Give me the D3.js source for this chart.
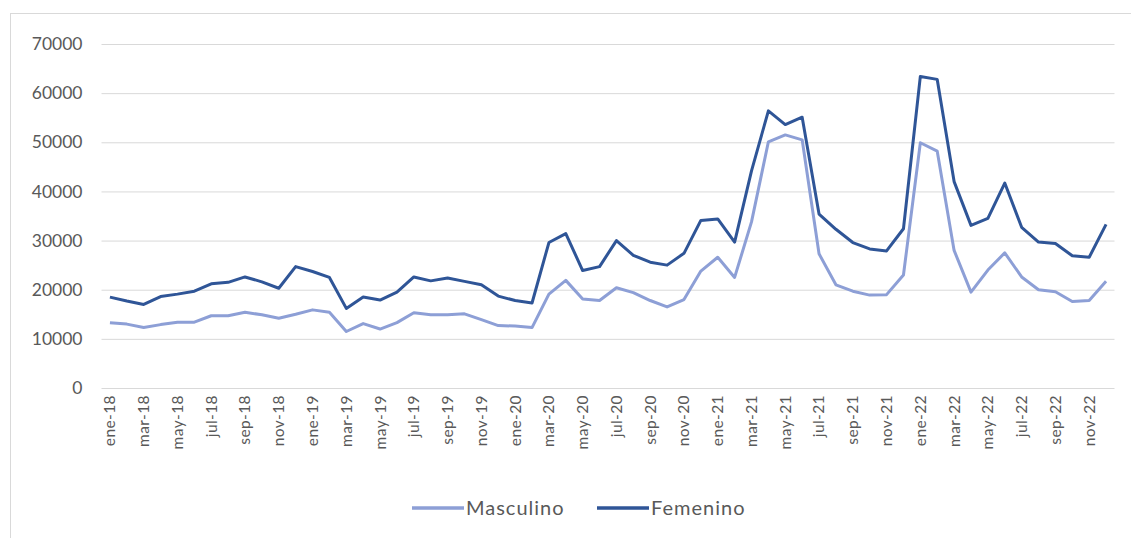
<!DOCTYPE html>
<html>
<head>
<meta charset="utf-8">
<script src="https://cdn.jsdelivr.net/npm/d3@7"></script>
<style>
  body { margin: 0; background: #fff; }
  #chart { width: 1131px; height: 538px; }
  text { font-family: Lato, "Open Sans", sans-serif; fill: #595959; }
</style>
</head>
<body>
<div id="chart"></div>
<script>
const years = ["18", "19", "20", "21", "22"];
const monthNames = ["ene", "feb", "mar", "abr", "may", "jun", "jul", "ago", "sep", "oct", "nov", "dic"];
const months = years.flatMap(y => monthNames.map(m => `${m}-${y}`));

const masculino = [13300, 13000, 12300, 12900, 13400, 13400, 14700, 14700, 15400, 14900, 14200, 15000,
  15900, 15400, 11500, 13100, 12000, 13300, 15300, 14900, 14900, 15100, 13900, 12700,
  12600, 12300, 19100, 21900, 18100, 17800, 20400, 19400, 17800, 16500, 18000, 23800,
  26600, 22500, 33800, 50100, 51500, 50500, 27300, 21000, 19700, 18900, 19000, 23000,
  49900, 48200, 28000, 19500, 24000, 27500, 22600, 20000, 19600, 17600, 17800, 21700];

const femenino = [18500, 17700, 17000, 18600, 19100, 19700, 21200, 21500, 22600, 21600, 20300, 24700,
  23700, 22500, 16200, 18500, 17900, 19500, 22600, 21800, 22400, 21700, 21000, 18700,
  17800, 17300, 29600, 31400, 23900, 24700, 30000, 27000, 25600, 25000, 27400, 34100,
  34400, 29700, 44200, 56400, 53600, 55100, 35400, 32300, 29600, 28300, 27900, 32400,
  63400, 62800, 42000, 33100, 34500, 41700, 32700, 29700, 29400, 26900, 26600, 33300];

const yTicks = [0, 10000, 20000, 30000, 40000, 50000, 60000, 70000];

const series = [
  { name: "Masculino", values: masculino, color: "#8d9fd6" },
  { name: "Femenino", values: femenino, color: "#2f5597" }
];

const width = 1131, height = 538;
const plot = { left: 101.5, right: 1114.5, top: 44, bottom: 388 };

const svg = d3.select("#chart").append("svg")
  .attr("width", width)
  .attr("height", height);

// chart frame
svg.append("rect")
  .attr("x", 10.5).attr("y", 13.5)
  .attr("width", width).attr("height", height)
  .attr("fill", "none")
  .attr("stroke", "#d9d9d9");

let x = d3.scaleBand()
  .domain(months)
  .range([plot.left, plot.right]);

let y = d3.scaleLinear()
  .domain([0, 70000])
  .range([plot.bottom, plot.top]);

// gridlines + y labels
let yAxis = d3.axisLeft(y)
  .tickValues(yTicks)
  .tickSize(-(plot.right - plot.left))
  .tickPadding(19)
  .tickFormat(d3.format("d"));

svg.append("g")
  .attr("transform", `translate(${plot.left}, 0)`)
  .call(yAxis)
  .call(g => g.select(".domain").remove())
  .call(g => g.selectAll("line").attr("stroke", "#d9d9d9"))
  .call(g => g.selectAll("text").attr("font-size", 17.5).attr("fill", "#595959"));

// x labels, every other month
let xAxis = d3.axisBottom(x)
  .tickValues(months.filter((d, i) => i % 2 === 0))
  .tickSize(0)
  .tickPadding(0);

svg.append("g")
  .attr("transform", `translate(0, ${plot.bottom})`)
  .call(xAxis)
  .call(g => g.select(".domain").remove())
  .call(g => g.selectAll("text")
    .attr("font-size", 15.5)
    .attr("letter-spacing", 0.4)
    .attr("fill", "#595959")
    .attr("transform", "rotate(-90)")
    .attr("text-anchor", "end")
    .attr("x", -7)
    .attr("y", 0)
    .attr("dy", "0.35em"));

let line = d3.line()
  .x((d, i) => x(months[i]) + x.bandwidth() / 2)
  .y(d => y(d));

svg.selectAll(".series")
  .data(series)
  .enter()
  .append("path")
  .attr("class", "series")
  .attr("d", d => line(d.values))
  .attr("fill", "none")
  .attr("stroke", d => d.color)
  .attr("stroke-width", 3)
  .attr("stroke-linejoin", "round");

// legend
let legend = svg.selectAll(".legend")
  .data(series)
  .enter()
  .append("g")
  .attr("class", "legend")
  .attr("transform", (d, i) => `translate(${412 + i * 185}, 508)`);

legend.append("line")
  .attr("x1", 0).attr("x2", 52)
  .attr("stroke", d => d.color)
  .attr("stroke-width", 3.5);

legend.append("text")
  .attr("x", 54)
  .attr("dy", "0.35em")
  .attr("font-size", 20)
  .attr("letter-spacing", 1)
  .text(d => d.name);
</script>
</body>
</html>
